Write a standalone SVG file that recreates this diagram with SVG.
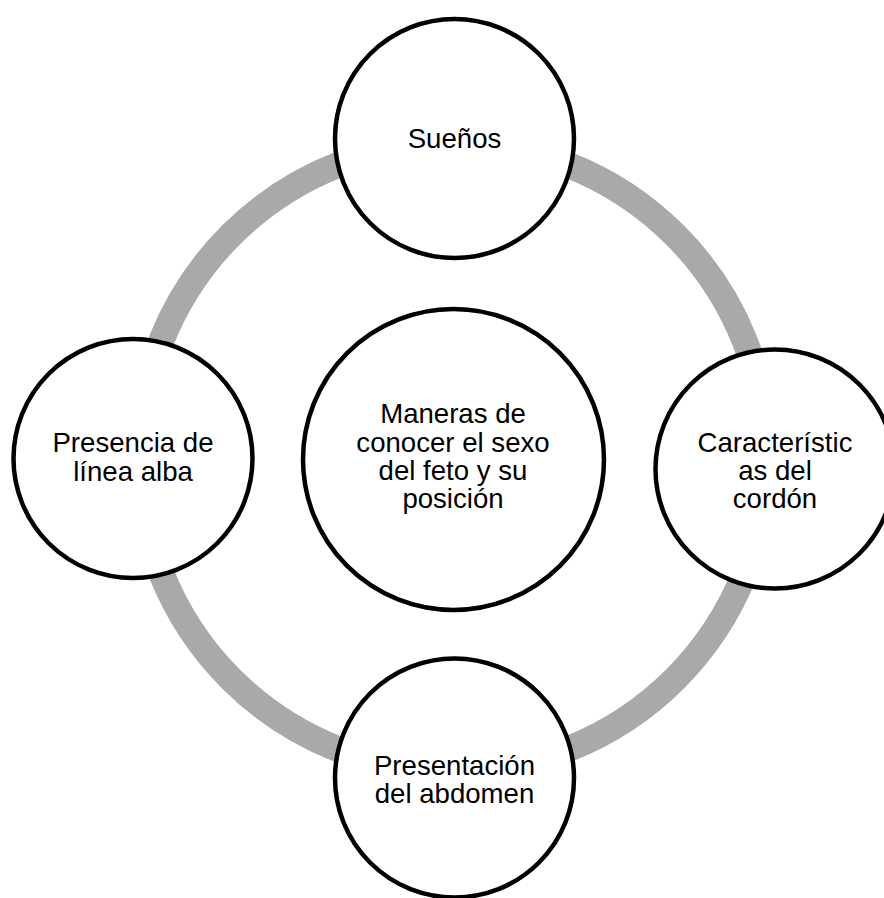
<svg xmlns="http://www.w3.org/2000/svg" width="884" height="898" viewBox="0 0 884 898">
<style>
.ring{fill:none;stroke:#A9A9A9;stroke-width:26}
.node{fill:#FFFFFF;stroke:#000000;stroke-width:4.5}
.lbl{font-family:"Liberation Sans",Arial,sans-serif;font-size:27.6px;fill:#000000;text-anchor:middle}
</style>
<rect width="884" height="898" fill="#FFFFFF"/>
<g id="connectors">
<circle class="ring" cx="453" cy="457" r="314"/>
</g>
<g id="node-center">
<circle class="node" cx="453.5" cy="459.5" r="150.5"/>
<text class="lbl" x="453" y="423">Maneras de</text>
<text class="lbl" x="453" y="452">conocer el sexo</text>
<text class="lbl" x="453" y="480">del feto y su</text>
<text class="lbl" x="453" y="508">posición</text>
</g>
<g id="node-suenos">
<circle class="node" cx="454.5" cy="138.5" r="119.5"/>
<text class="lbl" x="454.5" y="148">Sueños</text>
</g>
<g id="node-cordon">
<circle class="node" cx="775" cy="469" r="119.5"/>
<text class="lbl" x="775" y="452">Característic</text>
<text class="lbl" x="775" y="480">as del</text>
<text class="lbl" x="775" y="508">cordón</text>
</g>
<g id="node-abdomen">
<circle class="node" cx="454.5" cy="778" r="119.5"/>
<text class="lbl" x="454.5" y="775">Presentación</text>
<text class="lbl" x="454.5" y="803">del abdomen</text>
</g>
<g id="node-linea">
<circle class="node" cx="133" cy="458.5" r="119.5"/>
<text class="lbl" x="133" y="452">Presencia de</text>
<text class="lbl" x="133" y="481">línea alba</text>
</g>
</svg>
